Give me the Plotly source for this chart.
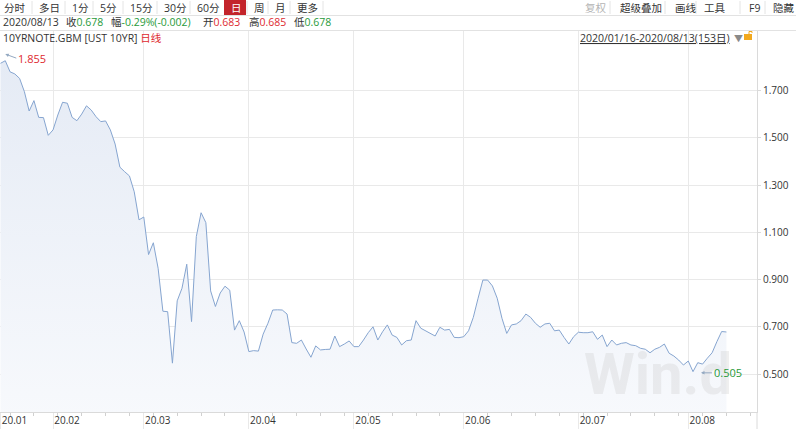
import plotly.graph_objects as go

# ---------------- data ----------------
yields = [
    1.816, 1.827, 1.780, 1.771, 1.752, 1.696, 1.614, 1.658, 1.587, 1.586,
    1.511, 1.534, 1.597, 1.651, 1.647, 1.587, 1.573, 1.601, 1.636, 1.618,
    1.590, 1.569, 1.572, 1.534, 1.474, 1.376, 1.357, 1.339, 1.272, 1.153,
    1.165, 1.006, 1.056, 0.948, 0.766, 0.764, 0.546, 0.810, 0.863, 0.965,
    0.722, 1.082, 1.183, 1.141, 0.852, 0.786, 0.843, 0.872, 0.855, 0.686,
    0.726, 0.678, 0.595, 0.599, 0.597, 0.669, 0.715, 0.771, 0.772, 0.771,
    0.754, 0.633, 0.630, 0.644, 0.606, 0.571, 0.619, 0.602, 0.604, 0.605,
    0.661, 0.616, 0.627, 0.640, 0.616, 0.616, 0.644, 0.675, 0.700, 0.644,
    0.679, 0.708, 0.665, 0.655, 0.623, 0.641, 0.644, 0.726, 0.694, 0.682,
    0.672, 0.661, 0.698, 0.686, 0.689, 0.655, 0.654, 0.658, 0.683, 0.740,
    0.821, 0.898, 0.898, 0.873, 0.821, 0.736, 0.672, 0.708, 0.712, 0.726,
    0.754, 0.740, 0.715, 0.698, 0.712, 0.715, 0.683, 0.686, 0.655, 0.627,
    0.658, 0.677, 0.675, 0.675, 0.679, 0.647, 0.665, 0.616, 0.644, 0.623,
    0.630, 0.633, 0.623, 0.620, 0.609, 0.605, 0.590, 0.605, 0.613, 0.627,
    0.588, 0.576, 0.559, 0.538, 0.555, 0.510, 0.548, 0.542, 0.567, 0.590,
    0.637, 0.680, 0.678,
]
month_tick_idx = [0, 11, 30, 52, 74, 97, 121, 144]
month_tick_labels = ["20.01", "20.02", "20.03", "20.04", "20.05", "20.06", "20.07", "20.08"]
y_tick_vals = [0.5, 0.7, 0.9, 1.1, 1.3, 1.5, 1.7]
high_idx, high_val = 1, 1.855
low_idx, low_val = 145, 0.505

toolbar_left = ["分时", "多日", "1分", "5分", "15分", "30分", "60分", "日", "周", "月", "更多"]
toolbar_right = ["复权", "超级叠加", "画线", "工具", "F9", "隐藏"]
quote_date = "2020/08/13"
quote_close = "0.678"
quote_chg = "-0.29%(-0.002)"
quote_open = "0.683"
quote_high = "0.685"
quote_low = "0.678"
title_code = "10YRNOTE.GBM [UST 10YR] "
title_period = "日线"
range_text = "2020/01/16-2020/08/13(153日)"

# ---------------- layout geometry ----------------
W, H = 796, 429
ML, MR, MT, MB = 0, 39, 31, 17
PW, PH = W - ML - MR, H - MT - MB

def px(x):
    return (x - ML) / PW

def py(y):
    return (H - MB - y) / PH

FONT = "Open Sans, Noto Sans CJK SC, sans-serif"
GREEN = "#279a3a"
RED = "#de2a30"
DARK = "#333333"
GRID = "#e9e9e9"

fig = go.Figure()
fig.add_trace(go.Scatter(
    x=list(range(len(yields))), y=yields, mode="lines",
    line=dict(color="#86a5d0", width=1),
    fill="tozeroy",
    fillgradient=dict(type="vertical", colorscale=[[0, "#fbfcfe"], [1, "#e5ebf5"]]),
    hoverinfo="skip", showlegend=False,
))

minor_vals = [v for v in range(2, 158, 5) if v not in month_tick_idx]

fig.update_layout(
    width=W, height=H,
    margin=dict(l=ML, r=MR, t=MT, b=MB, pad=0),
    paper_bgcolor="white", plot_bgcolor="white",
    font=dict(family=FONT, size=10, color=DARK),
    showlegend=False,
    xaxis=dict(
        range=[-0.105, 158.4], tickmode="array",
        tickvals=month_tick_idx, ticktext=month_tick_labels,
        showgrid=True, gridcolor=GRID, gridwidth=1,
        ticks="outside", ticklen=17, tickcolor=GRID, tickwidth=1,
        ticklabelshift=14, ticklabelstandoff=-18,
        showline=True, linecolor="#dadada", linewidth=1,
        zeroline=False, fixedrange=True,
        tickfont=dict(size=10, color=DARK, family=FONT),
        minor=dict(tickmode="array", tickvals=minor_vals, ticks="outside",
                   ticklen=3, tickcolor="#d0d0d0", showgrid=False),
    ),
    yaxis=dict(
        side="right", range=[0.3391, 1.9529],
        tickmode="array", tickvals=y_tick_vals, tickformat=".3f",
        showgrid=True, gridcolor=GRID, gridwidth=1,
        ticks="outside", ticklen=3, tickcolor="#dadada",
        showline=True, linecolor="#dadada", linewidth=1,
        zeroline=False, fixedrange=True,
        tickfont=dict(size=10, color=DARK, family=FONT),
    ),
)

shapes = []
# header separator lines
for yy in (15.5, 30.5):
    shapes.append(dict(type="line", xref="paper", yref="paper",
                       x0=px(0), x1=px(W), y0=py(yy), y1=py(yy),
                       line=dict(color="#e2e2e2", width=1)))
# right axis separator extending under the x labels
shapes.append(dict(type="line", xref="paper", yref="paper",
                   x0=1, x1=1, y0=py(H), y1=0, line=dict(color="#dadada", width=1)))
# selected toolbar button
shapes.append(dict(type="rect", xref="paper", yref="paper",
                   x0=px(224), x1=px(246), y0=py(15), y1=py(0),
                   fillcolor="#c3242b", line=dict(width=0)))
# toolbar separators
for sx in [32, 65, 93, 123, 157, 190, 247, 268, 290, 323, 610, 665, 696, 740, 765]:
    shapes.append(dict(type="line", xref="paper", yref="paper",
                       x0=px(sx), x1=px(sx), y0=py(14), y1=py(1),
                       line=dict(color="#e4e4e4", width=1)))
# lock icon
shapes.append(dict(type="rect", xref="paper", yref="paper",
                   x0=px(744), x1=px(752), y0=py(40), y1=py(34),
                   fillcolor="#f2a91e", line=dict(width=0)))
shapes.append(dict(type="path", xref="paper", yref="paper",
                   path=f"M {px(749)} {py(34)} L {px(749)} {py(31.5)} L {px(752)} {py(31.5)} L {px(752)} {py(33)}",
                   line=dict(color="#f2a91e", width=1)))
fig.update_layout(shapes=shapes)

anns = []

def ann(text, x, y, color=DARK, size=10.5, xanchor="left"):
    anns.append(dict(text=text, x=px(x), y=py(y), xref="paper", yref="paper",
                     xanchor=xanchor, yanchor="middle", showarrow=False,
                     font=dict(family=FONT, size=size, color=color)))

# toolbar
left_pos = [2, 37, 70, 98, 128, 162, 195, 229, 252, 273, 295]
for lbl, x in zip(toolbar_left, left_pos):
    ann(lbl, x, 7.5, color="white" if lbl == "日" else DARK)
right_pos = [583, 618, 673, 702, 747, 771]
for lbl, x in zip(toolbar_right, right_pos):
    ann(lbl, x, 7.5, color="#b4b4b4" if lbl == "复权" else DARK)

# quote row
ann(quote_date, 1, 22.5)
ann(f"收<span style='color:{GREEN}'>{quote_close}</span>", 64, 22.5)
ann(f"幅<span style='color:{GREEN}'>{quote_chg}</span>", 109, 22.5)
ann(f"开<span style='color:{RED}'>{quote_open}</span>", 201, 22.5)
ann(f"高<span style='color:{RED}'>{quote_high}</span>", 247, 22.5)
ann(f"低<span style='color:{GREEN}'>{quote_low}</span>", 292, 22.5)

# title row
ann(f"{title_code}<span style='color:{RED}'>{title_period}</span>", 1, 38)
anns.append(dict(text=range_text, x=px(578), y=py(38), xref="paper", yref="paper",
                 xanchor="left", yanchor="middle", showarrow=False,
                 font=dict(family=FONT, size=10.5, color=DARK, lineposition="under")))
ann("▼", 732, 38, color="#8a8a8a", size=9)

# watermark
anns.append(dict(text="<b>Win.d</b>", x=px(658), y=py(374), xref="paper", yref="paper",
                 xanchor="center", yanchor="middle", showarrow=False,
                 font=dict(family="Roboto, Arial, sans-serif", size=58,
                           color="rgba(205,205,205,0.33)")))

# extreme value markers
anns.append(dict(text=f"{high_val:.3f}", x=high_idx, y=high_val, xref="x", yref="y",
                 showarrow=True, ax=11, ay=4, xanchor="left", yanchor="middle",
                 arrowhead=2, arrowsize=0.7, arrowwidth=1, arrowcolor="#94a9c2",
                 font=dict(family=FONT, size=11, color=RED)))
anns.append(dict(text=f"{low_val:.3f}", x=low_idx, y=low_val, xref="x", yref="y",
                 showarrow=True, ax=19, ay=0, standoff=8, xanchor="left", yanchor="middle",
                 arrowhead=2, arrowsize=0.7, arrowwidth=1, arrowcolor="#94a9c2",
                 font=dict(family=FONT, size=11, color=GREEN)))

fig.update_layout(annotations=anns)
fig.write_html("out.html", config={"displayModeBar": False},
               post_script="document.body.style.margin='0';document.body.style.overflow='hidden';")
